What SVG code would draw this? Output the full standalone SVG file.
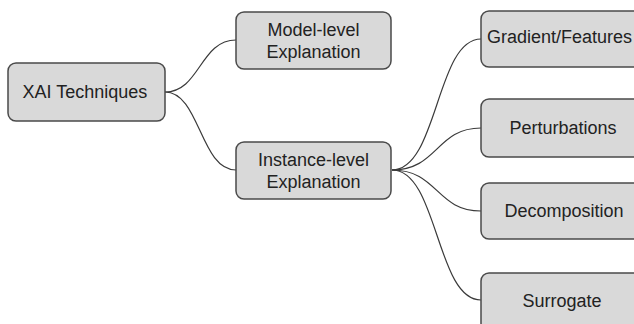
<svg xmlns="http://www.w3.org/2000/svg" width="634" height="324" viewBox="0 0 634 324">
  <style>
    .box { fill: #d9d9d9; stroke: #4a4a4a; stroke-width: 1.5; }
    .label { font-family: "Liberation Sans", Arial, sans-serif; font-size: 18px; fill: #222; text-anchor: middle; }
    .link { fill: none; stroke: #3a3a3a; stroke-width: 1.2; }
  </style>
  <rect width="634" height="324" fill="#ffffff"/>

  <g id="connectors">
    <path class="link" d="M165,92 C200,92 200,40 236,40"/>
    <path class="link" d="M165,92 C200,92 200,170 236,170"/>
    <path class="link" d="M392,170 C438,170 436,39 481,39"/>
    <path class="link" d="M392,170 C438,170 436,128 481,128"/>
    <path class="link" d="M392,170 C438,170 436,211 481,211"/>
    <path class="link" d="M392,170 C438,170 436,300 481,300"/>
  </g>

  <g id="xai-techniques">
    <rect class="box" x="8" y="63" width="157" height="58" rx="8"/>
    <text class="label" x="85" y="98">XAI Techniques</text>
  </g>

  <g id="model-level">
    <rect class="box" x="236" y="12" width="155" height="57" rx="8"/>
    <text class="label" x="313.5" y="36">Model-level</text>
    <text class="label" x="313.5" y="58">Explanation</text>
  </g>

  <g id="instance-level">
    <rect class="box" x="236" y="142" width="155" height="57" rx="8"/>
    <text class="label" x="313.5" y="166">Instance-level</text>
    <text class="label" x="313.5" y="188">Explanation</text>
  </g>

  <g id="gradient-features">
    <rect class="box" x="481" y="11" width="164" height="56" rx="8"/>
    <text class="label" x="487" y="43" style="text-anchor:start">Gradient/Features</text>
  </g>

  <g id="perturbations">
    <rect class="box" x="481" y="99" width="164" height="58" rx="8"/>
    <text class="label" x="563" y="134">Perturbations</text>
  </g>

  <g id="decomposition">
    <rect class="box" x="481" y="183" width="164" height="56" rx="8"/>
    <text class="label" x="564" y="217">Decomposition</text>
  </g>

  <g id="surrogate">
    <rect class="box" x="481" y="273" width="164" height="58" rx="8"/>
    <text class="label" x="562" y="307">Surrogate</text>
  </g>
</svg>
